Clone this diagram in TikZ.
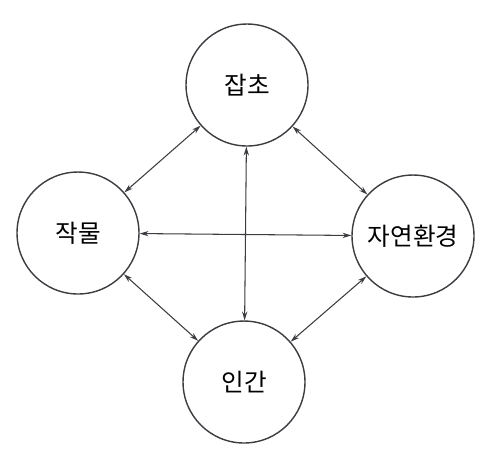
\documentclass[tikz,border=0pt]{standalone}
\usepackage{fontspec}
\newfontfamily\kor{Noto Sans CJK KR}
\usepackage{tikz}
\usetikzlibrary{arrows.meta, positioning}
\definecolor{linegray}{RGB}{60, 60, 65}

\begin{document}
\begin{tikzpicture}[x=0.02cm, y=-0.02cm,
    topic/.style={draw=linegray, circle, line width=0.8pt, minimum size=2.44cm, inner sep=0pt, font=\kor\fontsize{14}{16}\selectfont},
    link/.style={draw=linegray, line width=0.6pt, {Stealth[length=5pt, width=3pt]}-{Stealth[length=5pt, width=3pt]}}]
  \useasboundingbox (0, 0) rectangle (499, 458);
  \node[topic] (weed) at (247, 85) {잡초};
  \node[topic] (crop) at (78, 233) {작물};
  \node[topic] (nature) at (413, 236) {자연환경};
  \node[topic] (human) at (244, 382) {인간};
  \draw[link] (weed) -- (crop);
  \draw[link] (weed) -- (nature);
  \draw[link] (crop) -- (human);
  \draw[link] (nature) -- (human);
  \draw[link] (crop) -- (nature);
  \draw[link] (weed) -- (human);
\end{tikzpicture}
\end{document}
